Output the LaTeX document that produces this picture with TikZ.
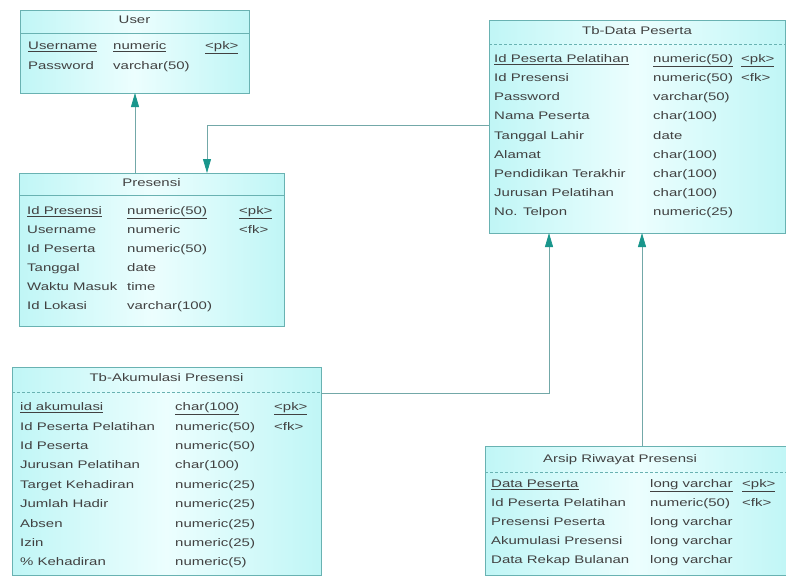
\documentclass[tikz,border=0pt]{standalone}
\usepackage{fontspec}
\setmainfont[FakeStretch=1.36]{Liberation Sans}
\usetikzlibrary{arrows.meta}
\definecolor{bordc}{RGB}{105,178,178}
\definecolor{fillE}{RGB}{192,246,246}
\definecolor{fillM}{RGB}{236,254,254}
\definecolor{linec}{RGB}{115,168,168}
\definecolor{arrc}{RGB}{25,150,140}
\definecolor{txtc}{RGB}{65,65,65}
\newcommand\erow[6]{%
  \node[txt] (#6n) at (#1,#3) {#4};
  \node[txt] (#6t) at (#2,#3) {#5};}
\newcommand\erowk[8]{%
  \node[txt] (#8n) at (#1,#4) {#5};
  \node[txt] (#8t) at (#2,#4) {#6};
  \node[txt] (#8k) at (#3,#4) {#7};}
\begin{document}
\begin{tikzpicture}[x=1pt,y=-1pt,
  tbl/.style={draw=bordc, line width=0.8pt, left color=fillE, right color=fillE, middle color=fillM, anchor=north west, inner sep=0pt, outer sep=0pt},
  sepl/.style={draw=bordc, line width=0.6pt},
  txt/.style={anchor=mid west, inner sep=0pt, text=txtc, font=\fontsize{11}{13}\selectfont},
  ttl/.style={anchor=mid, inner sep=0pt, text=txtc, font=\fontsize{11}{13}\selectfont},
  conn/.style={draw=linec, line width=0.8pt, -{Triangle[length=14pt,width=8pt,color=arrc]}}]
\useasboundingbox (0,0) rectangle (786,576);
\fill[white] (0,0) rectangle (786,576);

% ---------- User ----------
\node[tbl, minimum width=229pt, minimum height=83pt] (user) at (20,10) {};
\draw[sepl] (user.west |- 0,33) -- (user.east |- 0,33);
\node[ttl] (userT) at (134.5,21) {User};
\erowk{28}{113}{205}{47}{\underline{Username}}{\underline{numeric}}{\underline{<pk>}}{u1}
\erow{28}{113}{67}{Password}{varchar(50)}{u2}

% ---------- Presensi ----------
\node[tbl, minimum width=265pt, minimum height=153pt] (pres) at (19,173) {};
\draw[sepl] (pres.west |- 0,195) -- (pres.east |- 0,195);
\node[ttl] (presT) at (151.5,184) {Presensi};
\erowk{27}{127}{239}{212}{\underline{Id Presensi}}{\underline{numeric(50)}}{\underline{<pk>}}{p1}
\erowk{27}{127}{239}{231}{Username}{numeric}{<fk>}{p2}
\erow{27}{127}{250}{Id Peserta}{numeric(50)}{p3}
\erow{27}{127}{269}{Tanggal}{date}{p4}
\erow{27}{127}{288}{Waktu Masuk}{time}{p5}
\erow{27}{127}{307}{Id Lokasi}{varchar(100)}{p6}

% ---------- Tb-Data Peserta ----------
\node[tbl, minimum width=296pt, minimum height=213pt] (datap) at (489,20) {};
\draw[sepl, densely dashed] (datap.west |- 0,44) -- (datap.east |- 0,44);
\node[ttl] (datapT) at (637,32) {Tb-Data Peserta};
\erowk{494}{653}{741}{60}{\underline{Id Peserta Pelatihan}}{\underline{numeric(50)}}{\underline{<pk>}}{d1}
\erowk{494}{653}{741}{79.1}{Id Presensi}{numeric(50)}{<fk>}{d2}
\erow{494}{653}{98.2}{Password}{varchar(50)}{d3}
\erow{494}{653}{117.3}{Nama Peserta}{char(100)}{d4}
\erow{494}{653}{136.4}{Tanggal Lahir}{date}{d5}
\erow{494}{653}{155.5}{Alamat}{char(100)}{d6}
\erow{494}{653}{174.6}{Pendidikan Terakhir}{char(100)}{d7}
\erow{494}{653}{193.7}{Jurusan Pelatihan}{char(100)}{d8}
\erow{494}{653}{212.8}{No. Telpon}{numeric(25)}{d9}

% ---------- Tb-Akumulasi Presensi ----------
\node[tbl, minimum width=309pt, minimum height=208pt] (akum) at (12,367) {};
\draw[sepl, densely dashed] (akum.west |- 0,392) -- (akum.east |- 0,392);
\node[ttl] (akumT) at (166.5,379) {Tb-Akumulasi Presensi};
\erowk{20}{175}{274}{408}{\underline{id akumulasi}}{\underline{char(100)}}{\underline{<pk>}}{a1}
\erowk{20}{175}{274}{427.4}{Id Peserta Pelatihan}{numeric(50)}{<fk>}{a2}
\erow{20}{175}{446.8}{Id Peserta}{numeric(50)}{a3}
\erow{20}{175}{466.2}{Jurusan Pelatihan}{char(100)}{a4}
\erow{20}{175}{485.6}{Target Kehadiran}{numeric(25)}{a5}
\erow{20}{175}{505}{Jumlah Hadir}{numeric(25)}{a6}
\erow{20}{175}{524.4}{Absen}{numeric(25)}{a7}
\erow{20}{175}{543.8}{Izin}{numeric(25)}{a8}
\erow{20}{175}{563.2}{\% Kehadiran}{numeric(5)}{a9}

% ---------- Arsip Riwayat Presensi ----------
\node[tbl, minimum width=305pt, minimum height=129pt] (arsip) at (485,446) {};
\draw[sepl, densely dashed] (arsip.west |- 0,472) -- (arsip.east |- 0,472);
\node[ttl] (arsipT) at (620,460) {Arsip Riwayat Presensi};
\erowk{491}{650}{742}{485}{\underline{Data Peserta}}{\underline{long varchar}}{\underline{<pk>}}{r1}
\erowk{491}{650}{742}{504}{Id Peserta Pelatihan}{numeric(50)}{<fk>}{r2}
\erow{491}{650}{523}{Presensi Peserta}{long varchar}{r3}
\erow{491}{650}{542}{Akumulasi Presensi}{long varchar}{r4}
\erow{491}{650}{561}{Data Rekap Bulanan}{long varchar}{r5}

% ---------- connectors ----------
\draw[conn] (135,0 |- pres.north) -- (135,0 |- user.south);
\draw[conn] (datap.west |- 0,125) -- (207,125) -- (207,0 |- pres.north);
\draw[conn] (akum.east |- 0,393) -- (549,393) -- (549,0 |- datap.south);
\draw[conn] (642,0 |- arsip.north) -- (642,0 |- datap.south);
\end{tikzpicture}
\end{document}
